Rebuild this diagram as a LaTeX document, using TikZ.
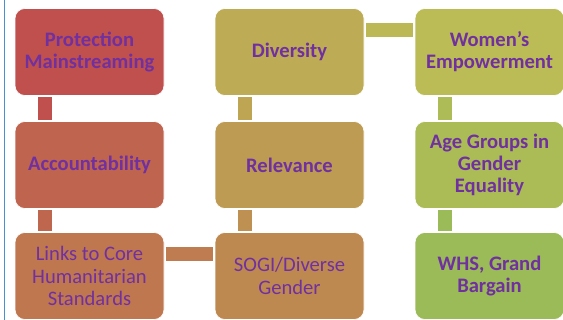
\documentclass[tikz,border=0pt]{standalone}
\usepackage{fontspec}
\setmainfont{Carlito}
\usetikzlibrary{positioning}

\definecolor{textpurple}{HTML}{7030A0}
\definecolor{edgeblue}{HTML}{4A90D0}
\definecolor{stageA}{HTML}{C0504D}
\definecolor{stageB}{HTML}{BF644E}
\definecolor{stageC}{HTML}{BF7750}
\definecolor{stageD}{HTML}{BE8951}
\definecolor{stageE}{HTML}{BD9B53}
\definecolor{stageF}{HTML}{BDAC55}
\definecolor{stageG}{HTML}{BCBC56}
\definecolor{stageH}{HTML}{ABBC57}
\definecolor{stageI}{HTML}{9BBB59}
\definecolor{linkA}{HTML}{C0504D}
\definecolor{linkB}{HTML}{BF674E}
\definecolor{linkC}{HTML}{BF7C50}
\definecolor{linkD}{HTML}{BE9152}
\definecolor{linkE}{HTML}{BDA554}
\definecolor{linkF}{HTML}{BCB856}
\definecolor{linkG}{HTML}{ADBC57}
\definecolor{linkH}{HTML}{9BBB59}

\begin{document}
\begin{tikzpicture}[x=1pt, y=-1pt,
    stage/.style={rectangle, draw=white, line width=0.6pt, rounded corners=10pt, minimum width=149pt, minimum height=87pt, inner sep=2pt, align=center, text=textpurple, font=\fontsize{20.6}{22}\selectfont\bfseries},
    plain/.style={font=\fontsize{20.6}{22.8}\selectfont\mdseries},
    link/.style={line width=14pt, shorten <=1.5pt, shorten >=1.5pt}
]
\fill[white] (0,0) rectangle (563,320);
\useasboundingbox (0,0) rectangle (563,320);
\draw[edgeblue, line width=1.2pt] (4.5,0) -- (4.5,320);

% Nodes
\node[stage, fill=stageA] (protect) at (89.5, 52) {Protection\\Mainstreaming};
\node[stage, fill=stageB] (account) at (89.5, 165) {Accountability};
\node[stage, plain, fill=stageC] (links) at (89.5, 276) {Links to Core\\Humanitarian\\Standards};
\node[stage, plain, fill=stageD] (sogi) at (289.5, 276) {SOGI/Diverse\\Gender};
\node[stage, fill=stageE] (relevance) at (289.5, 165) {Relevance};
\node[stage, fill=stageF] (diversity) at (289.5, 52) {Diversity};
\node[stage, fill=stageG] (women) at (489.5, 52) {Women’s\\Empowerment};
\node[stage, fill=stageH] (agegroups) at (489.5, 165) {Age Groups in\\Gender\\Equality};
\node[stage, fill=stageI] (whs) at (489.5, 276) {WHS, Grand\\Bargain};

% Paths
\draw[link, draw=linkA] ([xshift=30pt]protect.south west) -- ([xshift=30pt]account.north west);
\draw[link, draw=linkB] ([xshift=30pt]account.south west) -- ([xshift=30pt]links.north west);
\draw[link, draw=linkC] ([yshift=-22pt]links.north east) -- ([yshift=-22pt]sogi.north west);
\draw[link, draw=linkD] ([xshift=30pt]sogi.north west) -- ([xshift=30pt]relevance.south west);
\draw[link, draw=linkE] ([xshift=30pt]relevance.north west) -- ([xshift=30pt]diversity.south west);
\draw[link, draw=linkF] ([yshift=-22pt]diversity.north east) -- ([yshift=-22pt]women.north west);
\draw[link, draw=linkG] ([xshift=30pt]women.south west) -- ([xshift=30pt]agegroups.north west);
\draw[link, draw=linkH] ([xshift=30pt]agegroups.south west) -- ([xshift=30pt]whs.north west);

\end{tikzpicture}
\end{document}
